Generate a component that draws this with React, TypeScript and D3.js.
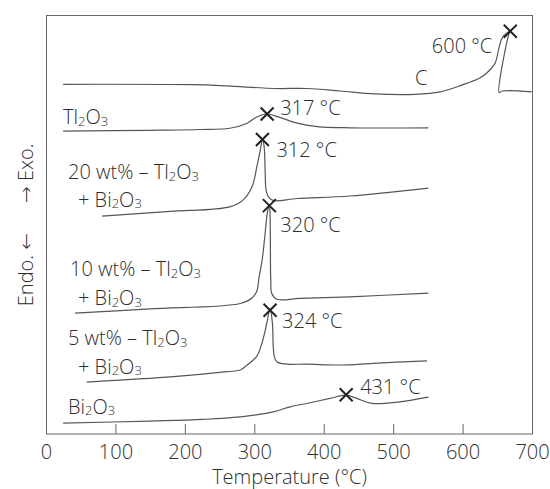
import React from 'react';
import * as d3 from 'd3';

// temperature (°C) and relative heat flow (arbitrary units, 0 = bottom of frame)
const cT = [24, 211, 260, 329, 375, 423, 473, 531, 567, 598, 624, 636, 646, 652, 657, 668, 666, 652, 656, 699];
const cV = [83.6, 83.5, 83.2, 82.6, 82.6, 82.0, 81.3, 81.2, 81.8, 83.4, 85.1, 86.6, 88.6, 92.5, 94.9, 96.3, 95.6, 81.6, 82.0, 81.8];

const tlT = [24, 149, 221, 264, 289, 303, 317, 336, 361, 390, 437, 550];
const tlV = [72.4, 72.6, 72.8, 73.1, 74.3, 75.8, 76.5, 75.7, 74.3, 73.5, 73.2, 73.2];

const w20T = [80, 178, 264, 283, 296, 303, 308, 311, 313.5, 315, 316.3, 319.7, 327, 361, 437, 550];
const w20V = [52.1, 53.2, 54.3, 55.9, 59.1, 63.9, 67.9, 70.4, 68.6, 62.4, 58.3, 56.7, 55.8, 56.3, 56.9, 58.8];

const w10T = [41, 149, 279, 296, 303, 306, 310.6, 315, 318, 321, 322, 322.5, 323, 324.5, 332, 365, 437, 550];
const w10V = [28.9, 29.9, 31.2, 32.5, 34.2, 37.3, 41.6, 48.1, 52.8, 54.7, 52.4, 44.0, 36.8, 33.6, 32.2, 32.4, 32.8, 33.7];

const w5T = [58, 183, 260, 279, 289, 303, 309, 313.5, 317.3, 322, 325.4, 326.5, 328, 332, 346.5, 375, 423, 471, 548];
const w5V = [12.4, 13.7, 14.9, 15.3, 16.5, 18.6, 21.0, 23.7, 26.5, 29.9, 26.5, 21.3, 18.6, 17.2, 16.7, 16.7, 16.5, 16.9, 17.5];

const biT = [24, 149, 226, 279, 326.5, 351, 375, 408, 431.5, 447, 469, 509, 550];
const biV = [2.6, 3.1, 3.5, 4.1, 5.3, 6.5, 7.3, 8.5, 9.3, 8.5, 7.3, 7.7, 8.8];

// peak markers
const peakT = [668, 317.8, 311, 321, 322, 431.6];
const peakV = [96.3, 76.5, 70.4, 54.6, 29.6, 9.4];
const peakLabels = ['600 °C', '317 °C', '312 °C', '320 °C', '324 °C', '431 °C'];
const peakOffsets = [[-18, 22, 'end'], [13, 1, 'start'], [14, 17, 'start'], [11, 26, 'start'], [12, 18, 'start'], [14, -1, 'start']];

const xTicks = [0, 100, 200, 300, 400, 500, 600, 700];

const W = 550, H = 489;
const left = 46.5, right = 532.5, top = 15.5, bottom = 434;

const x = d3.scaleLinear().domain([0, 700]).range([left, right]);
const y = d3.scaleLinear().domain([0, 100]).range([bottom, bottom - 418.3]);

const zip = (t: number[], v: number[]) => t.map((d, i) => [d, v[i]] as [number, number]);

const line = d3.line<[number, number]>()
  .x(d => x(d[0]))
  .y(d => y(d[1]))
  .curve(d3.curveCatmullRom.alpha(0.5));

const series = [zip(cT, cV), zip(tlT, tlV), zip(w20T, w20V), zip(w10T, w10V), zip(w5T, w5V), zip(biT, biV)];

const font = "'Open Sans', 'DejaVu Sans', sans-serif";
const ink = '#2e2e2e';
const fs = 20;

// chemical formula with subscripts
const Formula = ({ parts, xp, yp }: { parts: [string, boolean][]; xp: number; yp: number }) => (
  <text x={xp} y={yp} fontSize={fs} fill={ink} fontWeight={300}>
    {parts.map(([s, sub], i) => sub
      ? <tspan key={i} fontSize={13} dy={1.5}>{s}</tspan>
      : <tspan key={i} fontSize={fs} dy={i > 0 && parts[i - 1][1] ? -1.5 : 0}>{s}</tspan>)}
  </text>
);

export default function App() {
  return (
    <svg width={W} height={H} style={{ position: 'absolute', left: 0, top: 0, background: '#fff' }} fontFamily={font}>
      <rect x={left} y={top} width={right - left} height={bottom - top} fill="none" stroke="#666" strokeWidth={1} />
      {xTicks.slice(1, -1).map(t => (
        <line key={t} x1={x(t)} x2={x(t)} y1={bottom} y2={bottom - 10} stroke="#666" strokeWidth={1} />
      ))}
      {xTicks.map(t => (
        <text key={t} x={x(t)} y={459} textAnchor="middle" fontSize={fs} fill={ink} fontWeight={300}>{t}</text>
      ))}
      <text x={(left + right) / 2} y={484} textAnchor="middle" fontSize={fs} fill={ink} fontWeight={300}>Temperature (°C)</text>
      <g transform="translate(33,0) rotate(-90)">
        <text x={-233} y={0} textAnchor="end" fontSize={fs} fill={ink} fontWeight={300}>Endo. ←</text>
        <text x={-203} y={0} textAnchor="start" fontSize={fs} fill={ink} fontWeight={300}>→ Exo.</text>
      </g>

      {series.map((s, i) => (
        <path key={i} d={line(s) || ''} fill="none" stroke="#555" strokeWidth={1.2} />
      ))}

      {peakT.map((t, i) => {
        const px = x(t), py = y(peakV[i]), r = 6.5;
        const [dx, dy, anchor] = peakOffsets[i];
        return (
          <g key={i}>
            <path d={`M${px - r},${py - r}L${px + r},${py + r}M${px - r},${py + r}L${px + r},${py - r}`} stroke="#222" strokeWidth={2} />
            <text x={px + (dx as number)} y={py + (dy as number)} textAnchor={anchor as string} fontSize={fs} fill={ink} fontWeight={300}>{peakLabels[i]}</text>
          </g>
        );
      })}

      <text x={415} y={85} fontSize={fs} fill={ink} fontWeight={300}>C</text>
      <Formula xp={63} yp={124} parts={[['Tl', false], ['2', true], ['O', false], ['3', true]]} />
      <Formula xp={68} yp={179} parts={[['20 wt% – Tl', false], ['2', true], ['O', false], ['3', true]]} />
      <Formula xp={78} yp={206.5} parts={[['+ Bi', false], ['2', true], ['O', false], ['3', true]]} />
      <Formula xp={70} yp={276} parts={[['10 wt% – Tl', false], ['2', true], ['O', false], ['3', true]]} />
      <Formula xp={78} yp={305} parts={[['+ Bi', false], ['2', true], ['O', false], ['3', true]]} />
      <Formula xp={68} yp={345} parts={[['5 wt% – Tl', false], ['2', true], ['O', false], ['3', true]]} />
      <Formula xp={78} yp={373.5} parts={[['+ Bi', false], ['2', true], ['O', false], ['3', true]]} />
      <Formula xp={68} yp={413.5} parts={[['Bi', false], ['2', true], ['O', false], ['3', true]]} />
    </svg>
  );
}
